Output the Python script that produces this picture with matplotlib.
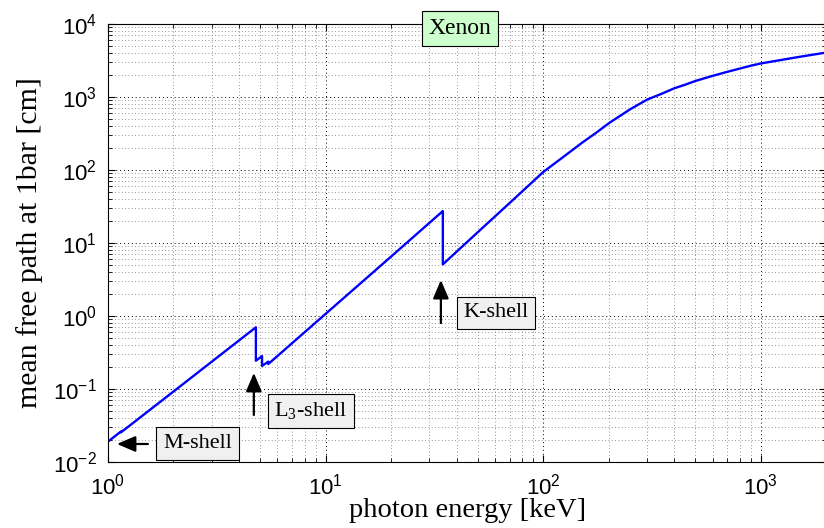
import matplotlib
matplotlib.use("Agg")
import matplotlib.pyplot as plt
import numpy as np

# photon energy [keV] and mean free path at 1 bar [cm] for xenon
energy = [1.0, 1.148, 1.148, 2.0, 3.0, 4.782, 4.782, 5.104, 5.104, 5.453, 5.453,
          10.0, 20.0, 34.56, 34.56, 50.0, 75.0, 100.0, 125.0, 150.0, 175.0, 200.0,
          250.0, 300.0, 350.0, 400.0, 450.0, 500.0, 600.0, 700.0, 800.0, 900.0,
          1000.0, 1500.0, 2000.0]
mfp = [0.019, 0.0262, 0.0255, 0.0923, 0.237, 0.70, 0.244, 0.283, 0.207, 0.237, 0.220,
       1.07, 6.53, 27.4, 5.1, 14.05, 42.6, 94.0, 155.0, 234.0, 324.0, 437.0,
       676.0, 922.0, 1109.0, 1318.0, 1480.0, 1660.0, 1950.0, 2213.0, 2455.0, 2690.0,
       2884.0, 3550.0, 4070.0]

x_ticks = [1, 10, 100, 1000]
y_ticks = [1e-2, 1e-1, 1e0, 1e1, 1e2, 1e3, 1e4]

# annotations: label, text position, arrow tail, arrow head
shell_labels = ["K-shell", "L$_3$-shell", "M-shell"]
label_pos = [(60.6, 1.1), (8.56, 0.05), (2.58, 0.0179)]
arrow_tail = [(33.85, 0.80), (4.68, 0.044), (1.527, 0.01766)]
arrow_head = [(33.85, 3.11), (4.68, 0.166), (1.10, 0.01766)]

plt.rcParams['mathtext.default'] = 'regular'
plt.rcParams['axes.unicode_minus'] = False

fig = plt.figure(figsize=(8.24, 5.28), dpi=100)
ax = fig.add_axes([0.131, 0.125, 0.872, 0.8295])

ax.plot(energy, mfp, color='#0000ff', lw=1.7)
ax.set_xscale('log')
ax.set_yscale('log')
ax.set_xlim(1, 2000)
ax.set_ylim(1e-2, 1e4)
ax.set_xticks(x_ticks)
ax.set_yticks(y_ticks)

ax.grid(which='major', color='k', linestyle=(0, (1, 3)), lw=0.7)
ax.grid(which='minor', color='0.45', linestyle=(0, (1, 3)), lw=0.6)
ax.yaxis.set_minor_locator(matplotlib.ticker.LogLocator(base=10, subs=np.arange(2, 10), numticks=20))
ax.xaxis.set_minor_locator(matplotlib.ticker.LogLocator(base=10, subs=np.arange(2, 10), numticks=20))
ax.yaxis.set_minor_formatter(matplotlib.ticker.NullFormatter())
ax.xaxis.set_minor_formatter(matplotlib.ticker.NullFormatter())
ax.tick_params(which='both', direction='in', top=True, right=True)
ax.tick_params(which='major', length=5, labelsize=16)
ax.tick_params(which='minor', length=3)
ax.tick_params(axis='x', which='major', pad=8)
ax.tick_params(axis='y', which='major', pad=8)
for lab in ax.get_xticklabels() + ax.get_yticklabels():
    lab.set_family('Liberation Sans')

ax.set_xlabel('photon energy [keV]', family='Liberation Serif', fontsize=20.5, labelpad=-1)
ax.set_ylabel('mean free path at 1bar [cm]', family='Liberation Serif', fontsize=21.5, labelpad=7)

ax.text(0.49, 0.989, 'Xenon', transform=ax.transAxes, ha='center', va='center',
        family='Liberation Serif', fontsize=17, clip_on=False,
        bbox=dict(boxstyle='square,pad=0.3', fc='#ccffcc', ec='k', lw=0.8))

for lab, pos, tail, head in zip(shell_labels, label_pos, arrow_tail, arrow_head):
    ax.annotate('', xy=head, xytext=tail,
                arrowprops=dict(arrowstyle='-|>,head_length=0.7,head_width=0.3',
                                mutation_scale=16, color='k', lw=1.6,
                                shrinkA=0, shrinkB=0))
    ax.text(pos[0], pos[1], lab, ha='center', va='center', family='Liberation Serif',
            fontsize=16, bbox=dict(boxstyle='square,pad=0.3', fc='#f0f0f0', ec='k', lw=0.8))

fig.savefig('out.png', dpi=100)
